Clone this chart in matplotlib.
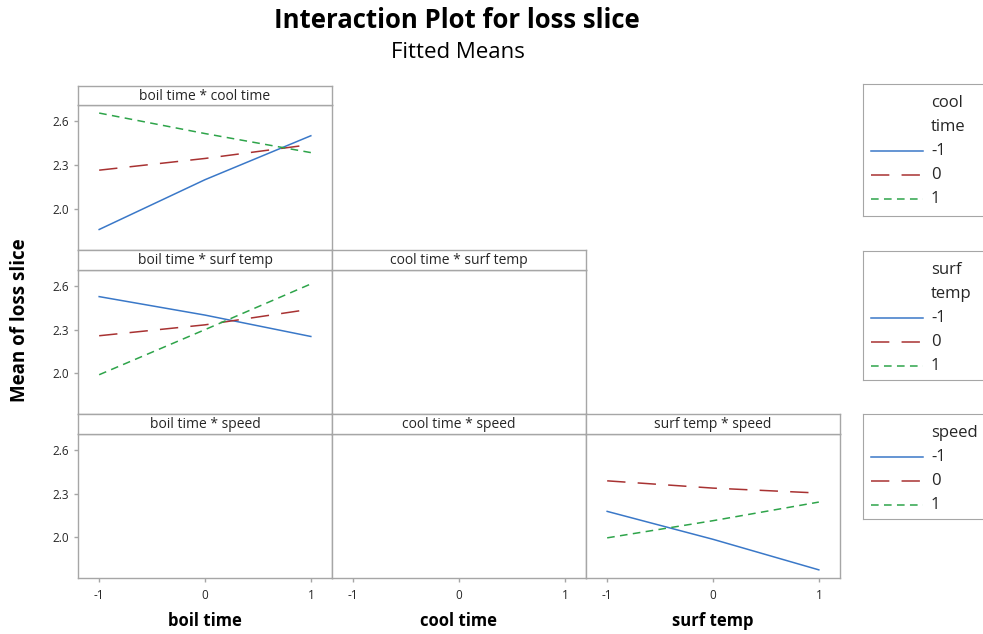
import matplotlib
matplotlib.use("Agg")
import matplotlib.pyplot as plt

plt.rcParams['font.family'] = ['Open Sans', 'DejaVu Sans']

# ---------------- data ----------------
levels = [-1, 0, 1]
level_labels = ["-1", "0", "1"]
factors = ["boil time", "cool time", "surf temp"]
trace_factors = ["cool time", "surf temp", "speed"]
yticks = [2.0, 2.3, 2.6]
ytick_labels = ["2.0", "2.3", "2.6"]

# boil time * cool time (traces: cool time -1, 0, 1)
boil_cool_m1 = [1.86, 2.20, 2.50]
boil_cool_0 = [2.265, 2.345, 2.44]
boil_cool_p1 = [2.655, 2.515, 2.385]
# boil time * surf temp (traces: surf temp -1, 0, 1)
boil_surf_m1 = [2.527, 2.40, 2.253]
boil_surf_0 = [2.258, 2.333, 2.441]
boil_surf_p1 = [1.99, 2.30, 2.614]
# surf temp * speed (traces: speed -1, 0, 1)
surf_speed_m1 = [2.178, 1.986, 1.776]
surf_speed_0 = [2.388, 2.338, 2.304]
surf_speed_p1 = [1.996, 2.114, 2.242]

W, H = 983, 634
fig = plt.figure(figsize=(W / 100, H / 100), dpi=100)

colors = ['#3a78c8', '#a83232', '#2ea44a']
styles = [dict(linestyle='-'),
          dict(linestyle=(0, (12, 8))),
          dict(linestyle=(0, (5, 3.5)))]
LW = 1.1
frame_col = '#a6a6a6'
txt_col = '#262626'

def fx(px):
    return px / W

def fy(py):
    return 1 - py / H

col_edges = [78, 332, 586, 840]
rows = [(86, 105, 250), (250, 270, 414), (414, 434, 578)]
ylim = (1.72, 2.71)
xlim = (-1.2, 1.2)

def make_panel(r, c, title):
    s_top, p_top, p_bot = rows[r]
    x0, x1 = col_edges[c], col_edges[c + 1]
    ax = fig.add_axes([fx(x0), fy(p_bot), fx(x1 - x0), (p_bot - p_top) / H])
    sx = fig.add_axes([fx(x0), fy(p_top), fx(x1 - x0), (p_top - s_top) / H])
    for a in (ax, sx):
        for sp in a.spines.values():
            sp.set_color(frame_col)
            sp.set_linewidth(1.0)
    sx.set_xticks([]); sx.set_yticks([])
    sx.text(0.5, 0.45, title, ha='center', va='center', fontsize=10,
            color=txt_col, transform=sx.transAxes)
    ax.set_xlim(*xlim); ax.set_ylim(*ylim)
    ax.tick_params(colors=frame_col, labelcolor=txt_col, labelsize=8.5,
                   length=3, width=1)
    if c == 0:
        ax.set_yticks(yticks)
        ax.set_yticklabels(ytick_labels)
    else:
        ax.set_yticks([])
    if r == 2:
        ax.set_xticks(levels)
        ax.set_xticklabels(level_labels)
        ax.tick_params(axis='x', pad=5)
    else:
        ax.set_xticks([])
    return ax

def draw(ax, series):
    for vals, col, st in zip(series, colors, styles):
        ax.plot(levels, vals, color=col, linewidth=LW, **st)

ax11 = make_panel(0, 0, "boil time * cool time")
draw(ax11, [boil_cool_m1, boil_cool_0, boil_cool_p1])
ax21 = make_panel(1, 0, "boil time * surf temp")
draw(ax21, [boil_surf_m1, boil_surf_0, boil_surf_p1])
ax22 = make_panel(1, 1, "cool time * surf temp")
ax31 = make_panel(2, 0, "boil time * speed")
ax32 = make_panel(2, 1, "cool time * speed")
ax33 = make_panel(2, 2, "surf temp * speed")
draw(ax33, [surf_speed_m1, surf_speed_0, surf_speed_p1])

# x axis labels
for c, name in enumerate(factors):
    xc = (col_edges[c] + col_edges[c + 1]) / 2
    fig.text(fx(xc), fy(621), name, ha='center', va='center',
             fontsize=12, fontweight='bold', color='black')

fig.text(fx(20), fy(320), "Mean of loss slice", rotation=90, ha='center',
         va='center', fontsize=13.5, fontweight='bold', color='black')

fig.text(fx(457), fy(20), "Interaction Plot for loss slice", ha='center',
         va='center', fontsize=18.5, fontweight='bold', color='black')
fig.text(fx(458), fy(52), "Fitted Means", ha='center', va='center',
         fontsize=16, color='black')

# legends
legend_boxes = [(84, 216, ["cool", "time"]),
                (251, 380, ["surf", "temp"]),
                (414, 519, ["speed"])]
for (top, bot, title_lines) in legend_boxes:
    lax = fig.add_axes([fx(863), fy(bot), fx(140), (bot - top) / H])
    lax.set_xlim(863, 1003)
    lax.set_ylim(bot, top)
    lax.set_xticks([]); lax.set_yticks([])
    for sp in lax.spines.values():
        sp.set_color(frame_col)
    lax.spines['right'].set_visible(False)
    ty = top + 19
    for tl in title_lines:
        lax.text(931, ty, tl, ha='left', va='center', fontsize=12, color=txt_col)
        ty += 24
    for lab, col, st in zip(level_labels, colors, styles):
        lax.plot([871, 923], [ty, ty], color=col, linewidth=LW, **st)
        lax.text(931, ty, lab, ha='left', va='center', fontsize=12, color=txt_col)
        ty += 24

fig.savefig("out.png", dpi=100)
